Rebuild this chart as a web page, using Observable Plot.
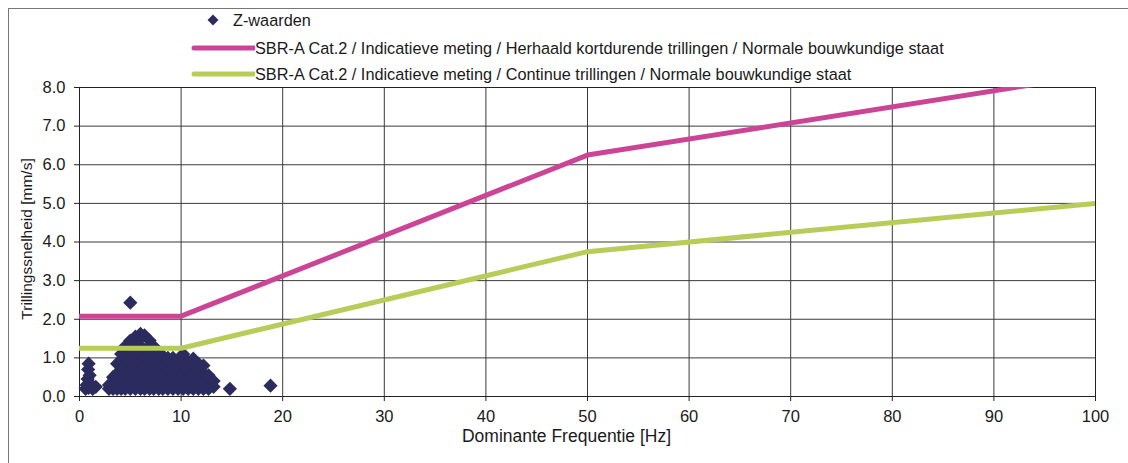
<!DOCTYPE html>
<html>
<head>
<meta charset="utf-8">
<script src="https://cdn.jsdelivr.net/npm/d3@7"></script>
<script src="https://cdn.jsdelivr.net/npm/@observablehq/plot@0.6"></script>
<style>
  html, body { margin: 0; padding: 0; background: #fff; }
  #wrap { position: relative; width: 1128px; height: 463px; overflow: hidden; font-family: "Liberation Sans", Arial, sans-serif; color: #1a1a1a; }
  #frame { position: absolute; left: 8px; top: 8px; width: 1200px; height: 600px; border-left: 1px solid #777; border-top: 1px solid #777; pointer-events: none; }
  #legend { position: relative; height: 66px; font-size: 16.3px; }
  .lg { position: absolute; display: flex; align-items: center; white-space: nowrap; }
  .lg svg { flex: none; }
  #chart svg { display: block; }
</style>
</head>
<body>
<div id="wrap">
  <div id="frame"></div>
  <div id="legend"></div>
  <div id="chart"></div>
</div>
<script>
// ---- data ----
const seriesNames = [
  "Z-waarden",
  "SBR-A Cat.2 / Indicatieve meting / Herhaald kortdurende trillingen / Normale bouwkundige staat",
  "SBR-A Cat.2 / Indicatieve meting / Continue trillingen / Normale bouwkundige staat"
];
const xLabel = "Dominante Frequentie [Hz]";
const yLabel = "Trillingssnelheid [mm/s]";
const limitFreq = [0, 10, 50, 100];
const limitRepeated = [2.08, 2.08, 6.25, 8.33];
const limitContinuous = [1.25, 1.25, 3.75, 5.0];
const xTicks = [0, 10, 20, 30, 40, 50, 60, 70, 80, 90, 100];
const yTicks = [0, 1, 2, 3, 4, 5, 6, 7, 8];
// Z-waarden: [frequency Hz, velocity mm/s]
const zPoints = [
  [0.6,0.2],[0.7,0.3],[0.8,0.45],[0.85,0.7],[0.9,0.85],[0.9,0.22],[1.0,0.55],[1.0,0.35],[1.3,0.2],[1.6,0.25],
  [2.9,0.2],[2.9,0.3],
  [3.3,0.2],[3.3,0.3],[3.3,0.5],
  [3.7,0.2],[3.7,0.4],[3.7,0.6],[3.7,0.85],
  [4.1,0.2],[4.1,0.3],[4.1,0.5],[4.1,0.7],[4.1,0.9],[4.1,1.1],
  [4.5,0.2],[4.5,0.4],[4.5,0.6],[4.5,0.8],[4.5,1.0],[4.5,1.2],[4.5,1.3],
  [5.0,0.2],[5.0,0.3],[5.0,0.5],[5.0,0.7],[5.0,0.9],[5.0,1.1],[5.0,1.3],[5.0,1.45],
  [5.5,0.2],[5.5,0.4],[5.5,0.6],[5.5,0.8],[5.5,1.0],[5.5,1.2],[5.5,1.4],[5.5,1.55],
  [6.0,0.2],[6.0,0.3],[6.0,0.5],[6.0,0.7],[6.0,0.9],[6.0,1.1],[6.0,1.3],[6.0,1.5],[6.0,1.62],
  [6.4,0.2],[6.4,0.4],[6.4,0.6],[6.4,0.8],[6.4,1.0],[6.4,1.2],[6.4,1.58],
  [6.9,0.2],[6.9,0.3],[6.9,0.5],[6.9,0.7],[6.9,0.9],[6.9,1.1],[6.9,1.3],[6.9,1.45],
  [7.3,0.2],[7.3,0.4],[7.3,0.6],[7.3,0.8],[7.3,1.0],[7.3,1.2],[7.3,1.3],
  [7.8,0.2],[7.8,0.3],[7.8,0.5],[7.8,0.7],[7.8,0.9],[7.8,1.1],[7.8,1.15],
  [8.2,0.2],[8.2,0.4],[8.2,0.6],[8.2,0.8],[8.2,1.05],
  [8.7,0.2],[8.7,0.3],[8.7,0.5],[8.7,0.7],[8.7,0.9],[8.7,1.0],
  [9.2,0.2],[9.2,0.4],[9.2,0.6],[9.2,0.8],[9.2,1.0],
  [9.7,0.2],[9.7,0.3],[9.7,0.5],[9.7,0.7],[9.7,0.9],[9.7,0.95],
  [10.2,0.2],[10.2,0.4],[10.2,0.6],[10.2,0.8],[10.2,1.0],[10.2,1.1],
  [10.7,0.2],[10.7,0.3],[10.7,0.5],[10.7,0.7],[10.7,0.9],
  [11.2,0.2],[11.2,0.4],[11.2,0.6],[11.2,0.8],[11.2,0.98],
  [11.7,0.2],[11.7,0.3],[11.7,0.5],[11.7,0.7],[11.7,0.85],
  [12.2,0.2],[12.2,0.4],[12.2,0.6],[12.2,0.8],
  [12.7,0.2],[12.7,0.3],[12.7,0.5],[12.7,0.55],
  [13.2,0.25],[13.2,0.4],
  [5.0,2.43],[14.8,0.2],[18.8,0.28]
];
const colors = { points: "#2c2b5e", repeated: "#cc4496", continuous: "#b8cc5a" };

// ---- legend ----
const legend = document.getElementById("legend");
function addLegend(left, top, swatchW, swatchSvg, text) {
  const d = document.createElement("div");
  d.className = "lg";
  d.style.left = left + "px";
  d.style.top = top + "px";
  d.style.height = "20px";
  d.innerHTML = `<svg width="${swatchW}" height="20">${swatchSvg}</svg><span>${text}</span>`;
  legend.appendChild(d);
}
addLegend(203, 10, 30, `<path d="M10,4.5 L15.5,10 L10,15.5 L4.5,10 Z" fill="${colors.points}"/>`, seriesNames[0]);
addLegend(191, 38, 64, `<line x1="3" x2="63" y1="10" y2="10" stroke="${colors.repeated}" stroke-width="5" stroke-linecap="round"/>`, seriesNames[1]);
addLegend(191, 64, 64, `<line x1="3" x2="63" y1="10" y2="10" stroke="${colors.continuous}" stroke-width="5" stroke-linecap="round"/>`, seriesNames[2]);

// ---- chart ----
const repeated = limitFreq.map((f, i) => ({ f, v: limitRepeated[i] }));
const continuous = limitFreq.map((f, i) => ({ f, v: limitContinuous[i] }));

const chart = Plot.plot({
  width: 1128,
  height: 397,
  marginLeft: 79,
  marginRight: 33,
  marginTop: 21,
  marginBottom: 67,
  style: { fontFamily: "Liberation Sans, Arial, sans-serif", fontSize: "16.5px", color: "#1a1a1a", background: "white" },
  x: { domain: [0, 100] },
  y: { domain: [0, 8] },
  marks: [
    Plot.gridX(xTicks, { stroke: "#3a3a3a", strokeOpacity: 1 }),
    Plot.gridY(yTicks, { stroke: "#3a3a3a", strokeOpacity: 1 }),
    Plot.frame({ stroke: "#222" }),
    Plot.axisX(xTicks, { tickSize: 5, tickPadding: 9, fontSize: 16.5, tickFormat: d => String(d), label: null, stroke: "#222" }),
    Plot.axisY(yTicks, { tickSize: 5, tickPadding: 9, fontSize: 16.5, tickFormat: d => d.toFixed(1), label: null, stroke: "#222" }),
    Plot.text([xLabel], { frameAnchor: "bottom", text: d => d, dy: 45, dx: -21, fontSize: 17.5, fill: "#1a1a1a" }),
    Plot.text([yLabel], { frameAnchor: "left", textAnchor: "middle", text: d => d, rotate: -90, dx: -52, dy: -3, fontSize: 15.5, fill: "#1a1a1a" }),
    Plot.dot(zPoints, { x: d => d[0], y: d => d[1], symbol: "diamond2", r: 6.4, fill: colors.points, stroke: "none" }),
    Plot.line(continuous, { x: "f", y: "v", stroke: colors.continuous, strokeWidth: 5, clip: true }),
    Plot.line(repeated, { x: "f", y: "v", stroke: colors.repeated, strokeWidth: 5, clip: true })
  ]
});
document.getElementById("chart").appendChild(chart);
</script>
</body>
</html>
